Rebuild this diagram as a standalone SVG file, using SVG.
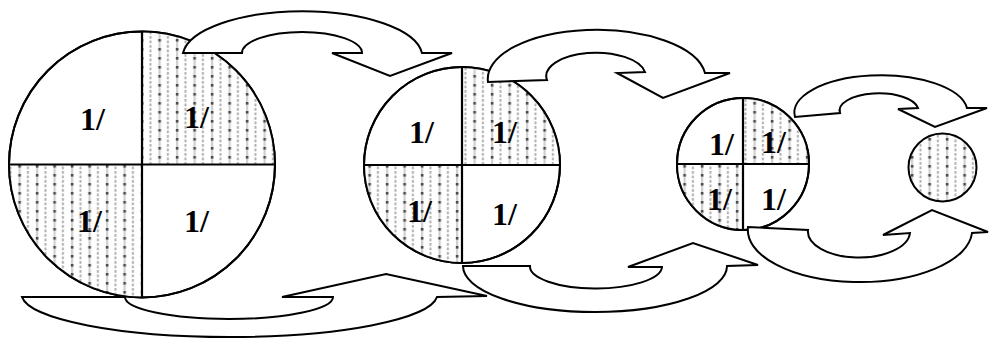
<svg xmlns="http://www.w3.org/2000/svg" width="993" height="343" viewBox="0 0 993 343">
<style>
.ol{fill:#fff;stroke:#000;stroke-width:2}
.q{fill:url(#dots);stroke:none}
.dv{stroke:#000;stroke-width:2.2;fill:none}
.ar{fill:#fff;stroke:#000;stroke-width:2;stroke-linejoin:miter}
.t{font-family:"Liberation Serif","Times New Roman",serif;font-weight:bold;font-size:32px;fill:#000}
</style>
<defs>
<pattern id="dots" width="17.5" height="9" patternUnits="userSpaceOnUse">
<rect width="17.5" height="9" fill="#fff"/>
<rect x="1" y="0" width="2.2" height="9" fill="#cfcfcf"/>
<rect x="0.8" y="3" width="2.6" height="2.6" fill="#4a4a4a"/>
<rect x="9.5" y="0" width="1.8" height="2.8" fill="#a8a8a8"/>
<rect x="9.5" y="4.5" width="1.8" height="2.8" fill="#a8a8a8"/>
</pattern>
</defs>
<g id="circle1">
<circle class="ol" cx="142" cy="164.5" r="133"/>
<path class="q" d="M142,164.5 L142,31.5 A133,133 0 0 1 275,164.5 Z"/>
<path class="q" d="M142,164.5 L142,297.5 A133,133 0 0 1 9,164.5 Z"/>
<circle cx="142" cy="164.5" r="133" fill="none" stroke="#000" stroke-width="2"/>
<path class="dv" d="M142,31.5 V297.5 M9,164.5 H275"/>
<text class="t" x="80" y="130">1/</text>
<text class="t" x="184" y="128">1/</text>
<text class="t" x="77" y="232">1/</text>
<text class="t" x="184" y="232">1/</text>
</g>
<g id="circle2">
<circle class="ol" cx="462" cy="165" r="98"/>
<path class="q" d="M462,165 L462,67 A98,98 0 0 1 560,165 Z"/>
<path class="q" d="M462,165 L462,263 A98,98 0 0 1 364,165 Z"/>
<circle cx="462" cy="165" r="98" fill="none" stroke="#000" stroke-width="2"/>
<path class="dv" d="M462,67 V263 M364,165 H560"/>
<text class="t" x="409" y="143">1/</text>
<text class="t" x="492" y="143">1/</text>
<text class="t" x="407" y="222">1/</text>
<text class="t" x="492" y="225">1/</text>
</g>
<g id="circle3">
<circle class="ol" cx="743" cy="164" r="66"/>
<path class="q" d="M743,164 L743,98 A66,66 0 0 1 809,164 Z"/>
<path class="q" d="M743,164 L743,230 A66,66 0 0 1 677,164 Z"/>
<circle cx="743" cy="164" r="66" fill="none" stroke="#000" stroke-width="2"/>
<path class="dv" d="M743,98 V230 M677,164 H809"/>
<text class="t" x="709" y="155">1/</text>
<text class="t" x="761" y="153">1/</text>
<text class="t" x="707" y="210">1/</text>
<text class="t" x="761" y="210">1/</text>
</g>
<g id="circle4">
<circle cx="942.5" cy="167.5" r="34" fill="url(#dots)" stroke="#000" stroke-width="2"/>
</g>
<g id="connectors">
<path class="ar" d="M183,53 A120,46 0 0 1 422,53 L452,53 L390,76 L332,53 L362,53 A60,21 0 0 0 242,53 Z"/>
<path class="ar" d="M488,82 A109,49 0 0 1 705,73 L730,73 L663,98 L617,73 L645,72 A49,23 0 0 0 547,80 Z"/>
<path class="ar" d="M795,117 A86,37 0 0 1 967,108 L987,108 L935,127 L898,109 L918,108 A39,17 0 0 0 840,113 Z"/>
<path class="ar" d="M463,266 A132,46 0 0 0 727,266 L758,265 L693,243 L628,267 L662,267 A66,22 0 0 1 530,266 Z"/>
<path class="ar" d="M22,297 A208,43 0 0 0 437,297 L487,296 L386,274 L282,297 L333,297 A104,22 0 0 1 125,297 Z"/>
<path class="ar" d="M748,227 A112,52 0 0 0 972,233 L988,232 L932,210 L883,235 L910,233 A51,26 0 0 1 808,230 Z"/>
</g>
</svg>
